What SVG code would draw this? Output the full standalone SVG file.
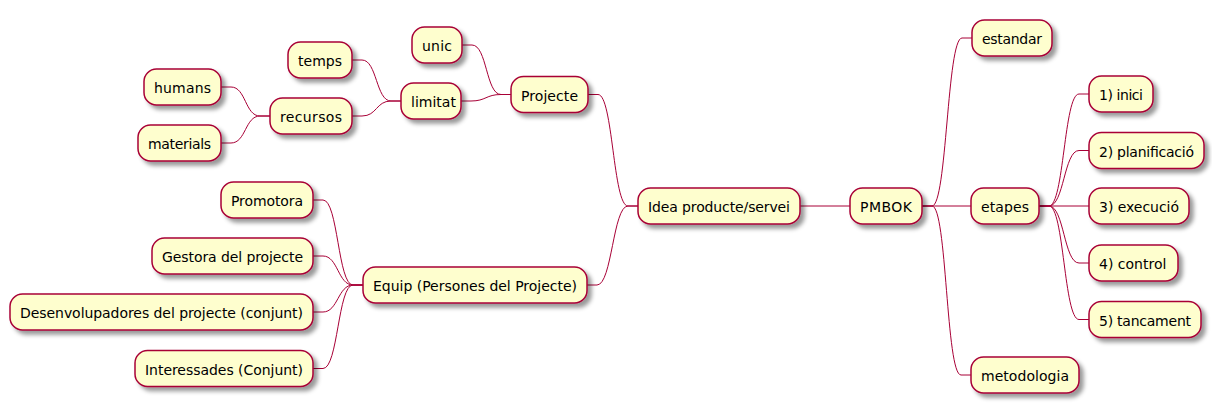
<svg xmlns="http://www.w3.org/2000/svg" width="1212" height="404" viewBox="0 0 1212 404">
<defs>
<filter id="sh" x="-1" y="-1" width="300%" height="300%">
<feGaussianBlur result="b1" stdDeviation="2"/>
<feColorMatrix in="b1" result="b2" type="matrix" values="0 0 0 0 0 0 0 0 0 0 0 0 0 0 0 0 0 0 .4 0"/>
<feOffset dx="4" dy="4" in="b2" result="b3"/>
<feBlend in="SourceGraphic" in2="b3" mode="normal"/>
</filter>
</defs>
<style>
.n rect{fill:#FEFECE;stroke:#A80036;stroke-width:1.5;filter:url(#sh)}
.n text{font-family:"DejaVu Sans",sans-serif;font-size:14px;fill:#000}
#edges path{fill:none;stroke:#A80036;stroke-width:1}
</style>
<rect width="1212" height="404" fill="#FFFFFF"/>
<g id="edges">
<path d="M800,206 L850,206"/>
<path d="M922,206 L932,206 C947,206 947,38 962,38 L972,38"/>
<path d="M922,206 L971,206"/>
<path d="M922,206 L932,206 C947,206 946,375 961,375 L971,375"/>
<path d="M1039,206 L1049,206 C1064,206 1064,94 1079,94 L1089,94"/>
<path d="M1039,206 L1049,206 C1064,206 1064,150.5 1079,150.5 L1089,150.5"/>
<path d="M1039,206 L1089,206"/>
<path d="M1039,206 L1049,206 C1064,206 1064,263 1079,263 L1089,263"/>
<path d="M1039,206 L1049,206 C1064,206 1064,319.5 1079,319.5 L1089,319.5"/>
<path d="M638,206 L628,206 C613,206 613,94.5 598,94.5 L588,94.5"/>
<path d="M638,206 L628,206 C613,206 612,285 597,285 L587,285"/>
<path d="M511,94.5 L501,94.5 C486,94.5 487,45 472,45 L462,45"/>
<path d="M511,94.5 L501,94.5 C486,94.5 486,101 471,101 L461,101"/>
<path d="M401,101 L391,101 C376,101 377,60 362,60 L352,60"/>
<path d="M401,101 L391,101 C376,101 377,116 362,116 L352,116"/>
<path d="M270,116 L260,116 C245,116 246,87 231,87 L221,87"/>
<path d="M270,116 L260,116 C245,116 246,143 231,143 L221,143"/>
<path d="M363,285 L353,285 C338,285 338,200 323,200 L313,200"/>
<path d="M363,285 L353,285 C338,285 338,256 323,256 L313,256"/>
<path d="M363,285 L353,285 C338,285 338,312 323,312 L313,312"/>
<path d="M363,285 L353,285 C338,285 338,368.5 323,368.5 L313,368.5"/>
</g>
<g id="idea" class="n"><rect x="638" y="188" width="162" height="36" rx="12.5"/><text x="648" y="212" textLength="142" lengthAdjust="spacing">Idea producte/servei</text></g>
<g id="pmbok" class="n"><rect x="850" y="188" width="72" height="36" rx="12.5"/><text x="860" y="212" textLength="52" lengthAdjust="spacing">PMBOK</text></g>
<g id="estandar" class="n"><rect x="972" y="20" width="80" height="36" rx="12.5"/><text x="982" y="44" textLength="60" lengthAdjust="spacing">estandar</text></g>
<g id="etapes" class="n"><rect x="971" y="188" width="68" height="36" rx="12.5"/><text x="981" y="212" textLength="48" lengthAdjust="spacing">etapes</text></g>
<g id="metodologia" class="n"><rect x="971" y="357" width="108" height="36" rx="12.5"/><text x="981" y="381" textLength="88" lengthAdjust="spacing">metodologia</text></g>
<g id="inici" class="n"><rect x="1089" y="76" width="64" height="36" rx="12.5"/><text x="1099" y="100" textLength="44" lengthAdjust="spacing">1) inici</text></g>
<g id="planificacio" class="n"><rect x="1089" y="132.5" width="115" height="36" rx="12.5"/><text x="1099" y="156.5" textLength="95" lengthAdjust="spacing">2) planificació</text></g>
<g id="execucio" class="n"><rect x="1089" y="188" width="100" height="36" rx="12.5"/><text x="1099" y="212" textLength="80" lengthAdjust="spacing">3) execució</text></g>
<g id="control" class="n"><rect x="1089" y="245" width="89" height="36" rx="12.5"/><text x="1099" y="269">4) control</text></g>
<g id="tancament" class="n"><rect x="1089" y="301.5" width="112" height="36" rx="12.5"/><text x="1099" y="325.5" textLength="92" lengthAdjust="spacing">5) tancament</text></g>
<g id="projecte" class="n"><rect x="511" y="76.5" width="77" height="36" rx="12.5"/><text x="521" y="100.5" textLength="57" lengthAdjust="spacing">Projecte</text></g>
<g id="unic" class="n"><rect x="412" y="27" width="50" height="36" rx="12.5"/><text x="422" y="51" textLength="30" lengthAdjust="spacing">unic</text></g>
<g id="limitat" class="n"><rect x="401" y="83" width="60" height="36" rx="12.5"/><text x="411" y="107">limitat</text></g>
<g id="temps" class="n"><rect x="288" y="42" width="64" height="36" rx="12.5"/><text x="298" y="66" textLength="44" lengthAdjust="spacing">temps</text></g>
<g id="recursos" class="n"><rect x="270" y="98" width="82" height="36" rx="12.5"/><text x="280" y="122" textLength="62" lengthAdjust="spacing">recursos</text></g>
<g id="humans" class="n"><rect x="144" y="69" width="77" height="36" rx="12.5"/><text x="154" y="93" textLength="57" lengthAdjust="spacing">humans</text></g>
<g id="materials" class="n"><rect x="138" y="125" width="83" height="36" rx="12.5"/><text x="148" y="149" textLength="63" lengthAdjust="spacing">materials</text></g>
<g id="equip" class="n"><rect x="363" y="267" width="224" height="36" rx="12.5"/><text x="373" y="291" textLength="204" lengthAdjust="spacing">Equip (Persones del Projecte)</text></g>
<g id="promotora" class="n"><rect x="221" y="182" width="92" height="36" rx="12.5"/><text x="231" y="206" textLength="72" lengthAdjust="spacing">Promotora</text></g>
<g id="gestora" class="n"><rect x="152" y="238" width="161" height="36" rx="12.5"/><text x="162" y="262" textLength="141" lengthAdjust="spacing">Gestora del projecte</text></g>
<g id="desenvolupadores" class="n"><rect x="10" y="294" width="303" height="36" rx="12.5"/><text x="20" y="318" textLength="283" lengthAdjust="spacing">Desenvolupadores del projecte (conjunt)</text></g>
<g id="interessades" class="n"><rect x="135" y="350.5" width="178" height="36" rx="12.5"/><text x="145" y="374.5" textLength="158" lengthAdjust="spacing">Interessades (Conjunt)</text></g>
</svg>
